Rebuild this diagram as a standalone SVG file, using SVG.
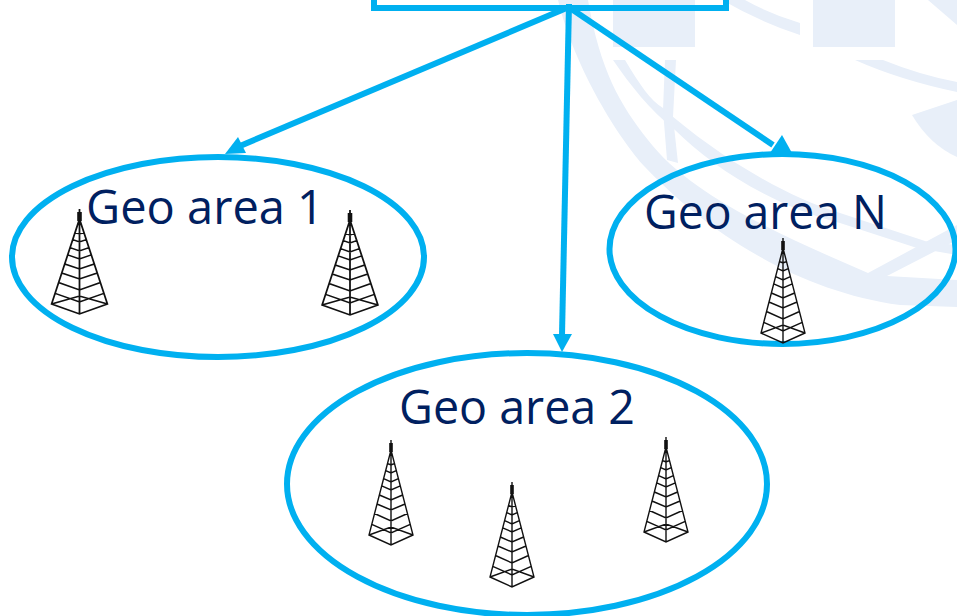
<svg xmlns="http://www.w3.org/2000/svg" width="957" height="616" viewBox="0 0 957 616">
<style>
.e{fill:none;stroke:#00b0f0;stroke-width:6}
.c{stroke:#00b0f0;stroke-width:6;fill:none}
.h{fill:#00b0f0}
.t{font-family:"Open Sans","Noto Sans",sans-serif;font-size:47px;fill:#002060}
.tw{fill:none;stroke:#111;stroke-width:1.4}
.bg{fill:#e8eff9}
</style>
<defs>
<g id="tower">
<path class="tw" d="M0 0V10M0 10L-22 95L0 105L22 95ZM0 10V105M-22 95L0 87L22 95M-19.200 84.300L0 93L19.200 84.300M-16.500 73.500L0 81L16.500 73.500M-14 64L0 70L14 64M-11.600 55L0 60L11.600 55M-9.300 45.800L0 50L9.300 45.800M-7.400 38.700L0 42L7.400 38.700M-5.300 30.600L0 33L5.300 30.600M-3.500 23.500L0 25L3.500 23.500"/>
<rect x="-1.800" y="3" width="3.600" height="9" fill="#111"/>
</g>
</defs>
<rect width="957" height="616" fill="#fff"/>
<g id="background">
<rect class="bg" x="613" y="0" width="82" height="47"/>
<rect class="bg" x="813" y="0" width="82" height="47"/>
<path class="bg" d="M745 0Q770 14 800 23V35Q760 22 722 0Z"/>
<path class="bg" d="M928 0L957 25V0Z"/>
<path class="bg" d="M855 60H883Q920 75 957 82V92Q900 80 855 60Z"/>
<path class="bg" d="M912 115L957 100V157Q930 145 912 115Z"/>
<path class="bg" d="M558 0C575 70 620 140 645 167C700 225 790 290 900 305L957 307V280L887 276L957 240V225L868 273C780 235 690 195 648 140C620 105 600 70 588 0Z"/>
<path class="bg" d="M613 60H625C640 85 650 100 663 108C710 150 780 195 840 213L928 242L957 245V255L917 248L840 223C770 205 710 165 675 130C650 110 630 85 613 60Z"/>
<path class="bg" d="M665 60H676L673 117L678 163L667 160L663 110Z"/>
</g>
<g id="connectors">
<path class="c" d="M569 7L240 146"/>
<path class="c" d="M569 4L562 335"/>
<path class="c" d="M570 8L773 145"/>
<path class="h" d="M225 154L238 137L246 153Z"/>
<path class="h" d="M553 334L572 334L562 352Z"/>
<path class="h" d="M792 153L782 135L770 153Z"/>
</g>
<g id="top-box"><rect x="374" y="-20" width="352" height="28" class="e"/></g>
<g id="geo-area-1">
<ellipse class="e" cx="218" cy="257" rx="206" ry="100"/>
<text class="t" x="86" y="224" textLength="238" lengthAdjust="spacingAndGlyphs">Geo area 1</text>
<use href="#tower" transform="translate(79.500 209) scale(1.27 1)"/>
<use href="#tower" transform="translate(350 210) scale(1.27 1)"/>
</g>
<g id="geo-area-n">
<ellipse class="e" cx="782.500" cy="249" rx="173" ry="95"/>
<text class="t" x="644" y="229" textLength="243" lengthAdjust="spacingAndGlyphs">Geo area N</text>
<use href="#tower" transform="translate(783 238)"/>
</g>
<g id="geo-area-2">
<ellipse class="e" cx="527" cy="484" rx="240" ry="131"/>
<text class="t" x="399" y="424" textLength="236" lengthAdjust="spacingAndGlyphs">Geo area 2</text>
<use href="#tower" transform="translate(391 440)"/>
<use href="#tower" transform="translate(512 482)"/>
<use href="#tower" transform="translate(666 437)"/>
</g>
</svg>
